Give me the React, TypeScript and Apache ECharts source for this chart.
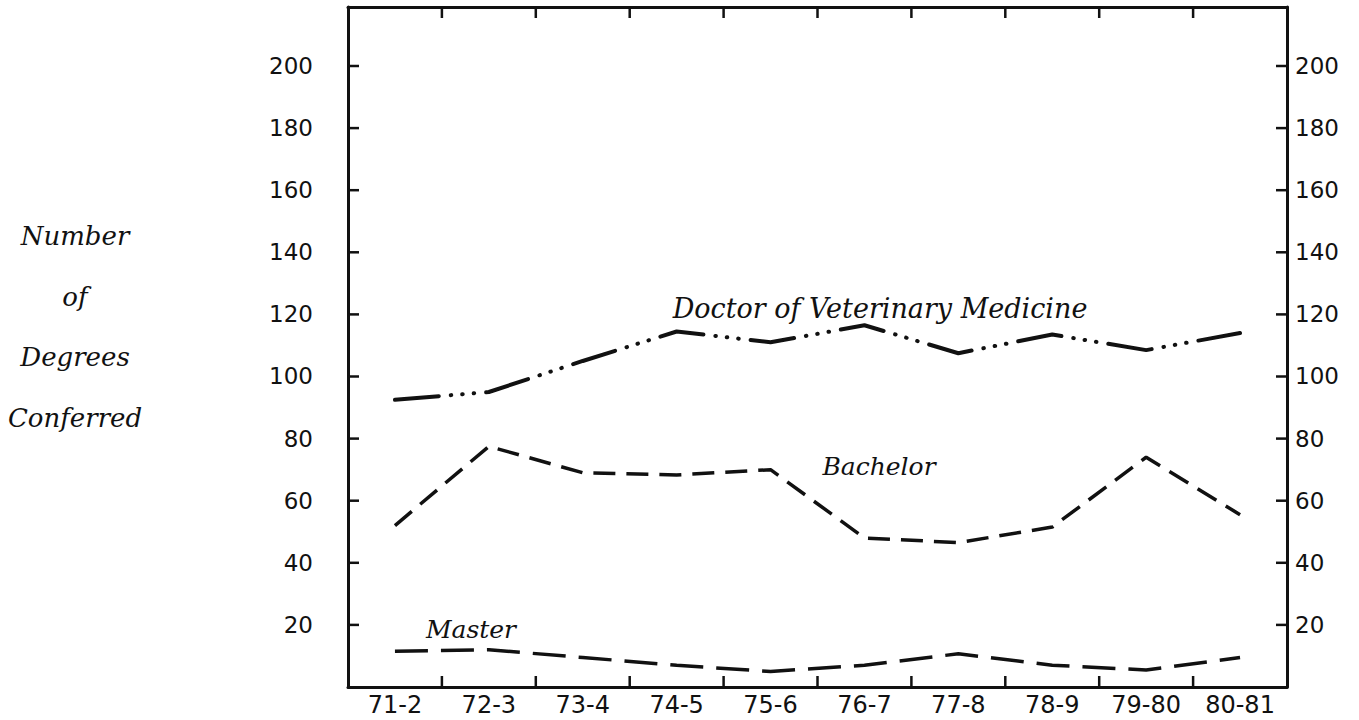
import React, { useEffect, useRef } from "react";
import * as echarts from "echarts";

const categories = ["71-2", "72-3", "73-4", "74-5", "75-6", "76-7", "77-8", "78-9", "79-80", "80-81"];
const dvmValues = [92.5, 95, 105, 114.5, 111, 116.5, 107.5, 113.5, 108.5, 114];
const bachelorValues = [52, 77.5, 69, 68.3, 70, 48, 46.5, 51.5, 74, 55.5];
const masterValues = [11.5, 12, 9.5, 7, 5, 7, 10.7, 7, 5.5, 9.5];
const yTicks = [20, 40, 60, 80, 100, 120, 140, 160, 180, 200];
const yTitleLines = ["Number", "of", "Degrees", "Conferred"];

const INK = "#111";
const serifItalic = {
  fontFamily: '"DejaVu Serif", serif',
  fontStyle: "italic" as const,
  fontSize: 25,
  fill: INK,
};
const TICK_LEN = 11;

export default function App() {
  const ref = useRef<HTMLDivElement>(null);
  useEffect(() => {
    if (!ref.current) return;
    const chart = echarts.init(ref.current, null, { renderer: "svg" });
    const yLabel = (v: number) => (yTicks.includes(v) ? String(v) : "");
    const axisFont = { fontFamily: '"DejaVu Sans", sans-serif', fontSize: 23, color: INK };
    const lineAxis = { show: true, onZero: false, lineStyle: { color: INK, width: 3 } };
    const noTick = { show: false };
    const tickStyle = { stroke: INK, lineWidth: 2.5 };

    // inward ticks on the left and right axes, placed by the value scale
    const yTickRender = (params: any, api: any) => {
      const cs = params.coordSys;
      const y = api.coord([0, api.value(1)])[1];
      return {
        type: "group",
        children: [
          { type: "line", shape: { x1: cs.x, y1: y, x2: cs.x + TICK_LEN, y2: y }, style: tickStyle },
          { type: "line", shape: { x1: cs.x + cs.width - TICK_LEN, y1: y, x2: cs.x + cs.width, y2: y }, style: tickStyle },
        ],
      };
    };
    // inward ticks at category boundaries on the bottom and top axes
    const xTickRender = (params: any, api: any) => {
      const cs = params.coordSys;
      const band = api.size([1, 0])[0];
      const x = api.coord([api.value(0), 0])[0] - band / 2;
      const yb = cs.y + cs.height;
      return {
        type: "group",
        children: [
          { type: "line", shape: { x1: x, y1: yb, x2: x, y2: yb - TICK_LEN }, style: tickStyle },
          { type: "line", shape: { x1: x, y1: cs.y, x2: x, y2: cs.y + TICK_LEN }, style: tickStyle },
        ],
      };
    };

    chart.setOption({
      animation: false,
      backgroundColor: "#fff",
      grid: { left: 348, right: 72, top: 7, bottom: 33, containLabel: false },
      xAxis: [
        {
          type: "category",
          data: categories,
          boundaryGap: true,
          position: "bottom",
          axisLine: lineAxis,
          axisTick: noTick,
          axisLabel: { ...axisFont, fontSize: 24, margin: 6, interval: 0 },
          splitLine: { show: false },
        },
        {
          type: "category",
          data: categories,
          boundaryGap: true,
          position: "top",
          axisLine: lineAxis,
          axisTick: noTick,
          axisLabel: { show: false },
          splitLine: { show: false },
        },
      ],
      yAxis: [
        {
          type: "value",
          min: 0,
          max: 219,
          interval: 20,
          position: "left",
          axisLine: lineAxis,
          axisTick: noTick,
          axisLabel: { ...axisFont, margin: 35, formatter: yLabel },
          splitLine: { show: false },
        },
        {
          type: "value",
          min: 0,
          max: 219,
          interval: 20,
          position: "right",
          axisLine: lineAxis,
          axisTick: noTick,
          axisLabel: { ...axisFont, margin: 8, formatter: yLabel },
          splitLine: { show: false },
        },
      ],
      series: [
        {
          name: "Doctor of Veterinary Medicine",
          type: "line",
          data: dvmValues,
          symbol: "none",
          lineStyle: { color: INK, width: 4, type: [44, 12, 0.5, 11, 0.5, 11, 0.5, 12], cap: "round" },
        },
        {
          name: "Bachelor",
          type: "line",
          data: bachelorValues,
          symbol: "none",
          lineStyle: { color: INK, width: 3.5, type: [22, 11], cap: "butt" },
        },
        {
          name: "Master",
          type: "line",
          data: masterValues,
          symbol: "none",
          lineStyle: { color: INK, width: 3.5, type: [33, 13], cap: "butt" },
        },
        {
          name: "yTicks",
          type: "custom",
          silent: true,
          clip: false,
          data: yTicks.map((v) => [0, v]),
          renderItem: yTickRender,
        },
        {
          name: "xTicks",
          type: "custom",
          silent: true,
          clip: false,
          data: categories.slice(1).map((c) => [c, 0]),
          renderItem: xTickRender,
        },
      ],
      graphic: [
        ...yTitleLines.map((t, i) => ({
          type: "text",
          x: 75,
          y: 236 + i * 60.5,
          style: { ...serifItalic, fontSize: 26, text: t, align: "center", verticalAlign: "middle" },
        })),
        {
          type: "text",
          x: 880,
          y: 308,
          style: { ...serifItalic, fontSize: 27, text: "Doctor of Veterinary Medicine", align: "center", verticalAlign: "middle" },
        },
        {
          type: "text",
          x: 879,
          y: 466,
          style: { ...serifItalic, text: "Bachelor", align: "center", verticalAlign: "middle" },
        },
        {
          type: "text",
          x: 471,
          y: 629,
          style: { ...serifItalic, text: "Master", align: "center", verticalAlign: "middle" },
        },
      ],
    });
    return () => chart.dispose();
  }, []);
  return (
    <div
      ref={ref}
      style={{ position: "absolute", left: 0, top: 0, width: 1359, height: 720, background: "#fff" }}
    />
  );
}
